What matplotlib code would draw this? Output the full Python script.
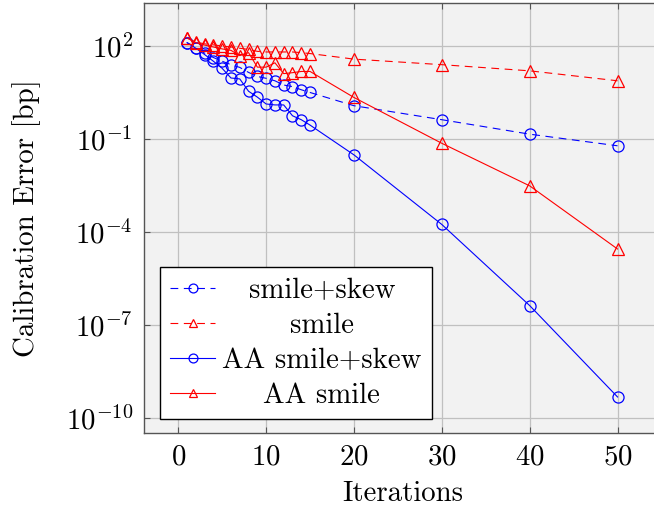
import numpy as np
import matplotlib
matplotlib.use("Agg")
import matplotlib.pyplot as plt
from matplotlib.ticker import FixedLocator, NullLocator, LogFormatterMathtext

plt.rcParams['font.family'] = ['cmr10', 'DejaVu Serif']
plt.rcParams['mathtext.fontset'] = 'cm'
plt.rcParams['axes.formatter.use_mathtext'] = True
plt.rcParams['axes.unicode_minus'] = False

iterations = [1, 2, 3, 4, 5, 6, 7, 8, 9, 10, 11, 12, 13, 14, 15, 20, 30, 40, 50]
smile_skew = [126, 87, 57.5, 41.7, 31.6, 24.5, 20, 13.8, 10.2, 8.9, 7.4, 5.4, 4.8, 3.8, 3.1,
              1.16, 0.41, 0.14, 0.059]
smile = [178, 132, 115, 107, 98, 91, 83, 76, 66, 63, 63, 63, 63, 60, 56,
         37, 24.5, 15.5, 7.4]
aa_smile_skew = [126, 83, 52, 31.6, 18.6, 9.1, 8.5, 3.4, 2.2, 1.32, 1.23, 1.23, 0.55, 0.41, 0.275,
                 0.030, 1.7e-4, 4.1e-7, 4.6e-10]
aa_smile = [178, 126, 105, 91, 79, 71, 48, 60, 20.4, 20.4, 28.2, 12.6, 13.5, 14.8, 14.8,
            2.14, 0.071, 3.0e-3, 2.75e-5]

labels = ['smile+skew', 'smile', 'AA smile+skew', 'AA smile']
xticks = [0, 10, 20, 30, 40, 50]
ytick_exps = [2, -1, -4, -7, -10]

FS = 20.8

fig = plt.figure(figsize=(6.54, 5.08), dpi=100)
ax = fig.add_axes([144 / 654, 1 - 433 / 508, 516.6 / 654, 430 / 508])
ax.set_facecolor('#f2f2f2')

ms = 8.0
lw = 0.8
dash = (0, (7, 5))
ax.plot(iterations, smile_skew, color='blue', ls=dash, lw=lw, marker='o', ms=ms,
        mfc='none', mec='blue', mew=0.9, label=labels[0])
ax.plot(iterations, smile, color='red', ls=dash, lw=lw, marker='^', ms=ms,
        mfc='none', mec='red', mew=0.9, label=labels[1])
ax.plot(iterations, aa_smile_skew, color='blue', ls='-', lw=lw, marker='o', ms=ms,
        mfc='none', mec='blue', mew=0.9, label=labels[2])
ax.plot(iterations, aa_smile, color='red', ls='-', lw=lw, marker='^', ms=ms,
        mfc='none', mec='red', mew=0.9, label=labels[3])

ax.set_yscale('log')
ax.set_xlim(-3.9, 54.9)
ax.set_ylim(10 ** -10.5, 10 ** 3.38)
ax.xaxis.set_major_locator(FixedLocator(xticks))
ax.yaxis.set_major_locator(FixedLocator([10.0 ** e for e in ytick_exps]))
ax.yaxis.set_major_formatter(LogFormatterMathtext())
ax.yaxis.set_minor_locator(NullLocator())
ax.xaxis.set_minor_locator(NullLocator())

ax.grid(True, color='#c0c0c0', lw=0.9)
ax.set_axisbelow(True)
for s in ax.spines.values():
    s.set_color('#555555')
    s.set_linewidth(1.0)
ax.tick_params(which='both', direction='in', length=4, width=0.8, color='#555555',
               labelsize=FS, top=True, right=True, pad=8)

ax.set_xlabel('Iterations', fontsize=FS, labelpad=7)
ax.set_ylabel('Calibration Error [bp]', fontsize=FS, labelpad=18)

leg = ax.legend(loc='lower left', bbox_to_anchor=(0.031, 0.0326), borderaxespad=0,
                fontsize=FS, frameon=True, fancybox=False, edgecolor='black',
                facecolor='white', framealpha=1, handlelength=1.55, handletextpad=0.25,
                labelspacing=0.3, borderpad=0.35, markerscale=0.8)
leg.get_frame().set_linewidth(1.0)

fig.canvas.draw()
renderer = fig.canvas.get_renderer()
texts = leg.get_texts()
widths = [t.get_window_extent(renderer).width for t in texts]
wmax = max(widths)
for t, w in zip(texts, widths):
    t.set_position(((wmax - w) / 2, 0))

fig.savefig('out.png', dpi=100)
